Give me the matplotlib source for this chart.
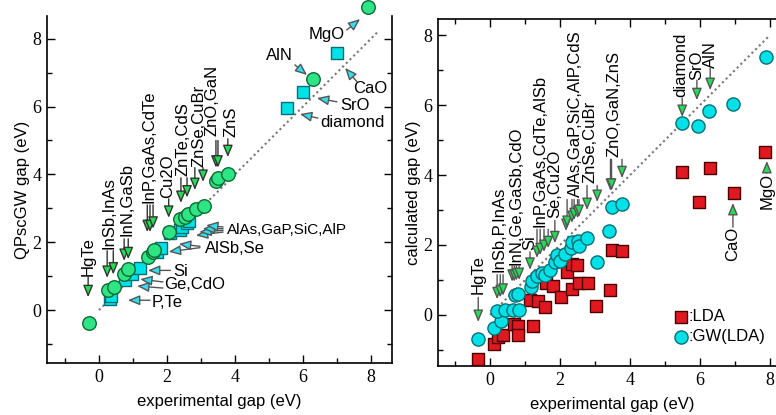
import matplotlib
matplotlib.use("Agg")
import matplotlib.pyplot as plt
from matplotlib.ticker import MultipleLocator

# tick numbers are serif, all other text is sans
plt.rcParams["font.family"] = ["Liberation Serif", "DejaVu Serif"]
SANS = ["Liberation Sans", "DejaVu Sans"]

# left panel: QPscGW vs experiment
left_circle_exp = [-0.29, 0.25, 0.44, 0.74, 0.85, 1.44, 1.58, 1.62, 2.05, 2.38, 2.52, 2.62, 2.85, 3.09, 3.44, 3.50, 3.79, 6.29, 7.91]
left_circle_gw = [-0.38, 0.60, 0.68, 1.07, 1.20, 1.56, 1.72, 1.78, 2.30, 2.68, 2.75, 2.82, 2.98, 3.07, 3.80, 3.88, 4.01, 6.81, 8.94]
left_square_exp = [0.33, 0.36, 0.76, 0.98, 1.20, 1.72, 1.82, 2.10, 2.38, 2.45, 2.59, 2.64, 5.53, 6.00, 7.00]
left_square_gw = [0.34, 0.42, 0.90, 1.05, 1.24, 1.72, 1.82, 2.27, 2.36, 2.45, 2.56, 2.62, 5.96, 6.43, 7.58]

# right panel: LDA and GW(LDA) vs experiment
lda_exp = [-0.34, 0.11, 0.23, 0.37, 0.69, 0.80, 0.80, 1.23, 1.14, 1.37, 1.57, 1.60, 1.80, 2.03, 2.34, 2.54, 2.80,
           2.20, 2.34, 2.49, 3.03, 3.43, 3.49, 3.77, 5.49, 5.97, 6.29, 6.97, 7.86]
lda_gap = [-1.26, -0.83, -0.63, -0.57, -0.26, -0.33, -0.57, -0.31, 0.43, 0.40, 0.22, 0.92, 0.83, 0.50, 0.75, 0.91, 0.91,
           1.23, 1.47, 1.43, 0.25, 0.70, 1.86, 1.83, 4.09, 3.23, 4.20, 3.49, 4.66]
gwlda_exp = [-0.34, 0.12, 0.30, 0.20, 0.42, 0.65, 0.82, 0.70, 0.80, 1.17, 1.20, 1.35, 1.47, 1.58, 1.70, 1.86, 1.90,
             2.00, 2.14, 2.30, 2.34, 2.52, 2.55, 2.77, 3.05, 3.40, 3.49, 3.77, 5.49, 5.94, 6.26, 6.94, 7.89]
gwlda_gap = [-0.68, -0.37, -0.16, 0.12, 0.15, 0.15, 0.14, 0.56, 0.60, 0.80, 0.97, 1.12, 1.20, 1.13, 1.29, 1.50, 1.72,
             1.53, 1.75, 1.90, 2.08, 2.12, 1.97, 2.20, 1.50, 2.40, 3.09, 3.17, 5.49, 5.40, 5.83, 6.03, 7.37]

# label layout: (text, x, y_bottom, [(x, y_tail, y_tip), ...])
LEFT_DOWN = [
    ("HgTe", -0.32, 1.0, [(-0.32, 1.0, 0.38)]),
    ("InSb,InAs", 0.28, 1.8, [(0.24, 1.75, 0.95), (0.42, 1.75, 1.05)]),
    ("InN,GaSb", 0.82, 2.18, [(0.74, 2.1, 1.45), (0.86, 2.1, 1.5)]),
    ("InP,GaAs,CdTe", 1.47, 3.16, [(1.42, 3.1, 2.3), (1.50, 3.1, 2.3), (1.59, 3.1, 2.4)]),
    ("Cu2O", 2.03, 3.3, [(2.05, 3.28, 2.72)]),
    ("ZnTe,CdS", 2.47, 3.95, [(2.41, 3.9, 3.16), (2.59, 3.9, 3.32)]),
    ("ZnSe,CuBr", 2.94, 4.22, [(2.82, 4.2, 3.54), (3.06, 4.2, 3.78)]),
    ("ZnO,GaN", 3.32, 5.13, [(3.44, 5.0, 4.2), (3.50, 5.0, 4.2)]),
    ("ZnS", 3.88, 5.1, [(3.79, 5.05, 4.51)]),
]
# (text, x, y, ha, [(x_tail, y_tail, x_tip, y_tip), ...])
LEFT_SIDE = [
    ("P,Te", 1.56, 0.22, "left", [(1.5, 0.29, 0.85, 0.29)]),
    ("Si", 2.18, 1.15, "left", [(2.1, 1.17, 1.44, 1.17)]),
    ("Ge,CdO", 1.91, 0.74, "left", [(1.88, 0.83, 1.21, 0.91), (1.88, 0.65, 1.12, 0.71)]),
    ("AlSb,Se", 3.12, 1.83, "left", [(2.97, 1.84, 2.05, 1.72), (2.97, 1.88, 2.35, 1.95)]),
    ("AlAs,GaP,SiC,AlP", 3.76, 2.36, "left", [(3.65, 2.30, 2.85, 2.20), (3.65, 2.35, 2.95, 2.30),
                                              (3.65, 2.40, 3.05, 2.40), (3.65, 2.45, 3.15, 2.50)]),
    ("MgO", 6.71, 8.11, "center", [(7.29, 8.26, 7.68, 8.58)]),
    ("AlN", 5.32, 7.52, "center", [(5.76, 7.23, 6.12, 6.93)]),
    ("CaO", 7.97, 6.52, "center", [(7.59, 6.73, 7.24, 7.14)]),
    ("SrO", 7.53, 6.02, "center", [(7.0, 6.14, 6.41, 6.25)]),
    ("diamond", 6.5, 5.52, "left", [(6.44, 5.66, 5.91, 5.78)]),
]
RIGHT_DOWN = [
    ("HgTe", -0.34, 0.6, [(-0.34, 0.5, -0.2)]),
    ("InSb,P,InAs", 0.26, 1.23, [(0.20, 1.15, 0.45), (0.29, 1.15, 0.5), (0.37, 1.15, 0.55)]),
    ("InN,Ge,GaSb,CdO", 0.74, 1.43, [(0.63, 1.4, 0.95), (0.69, 1.4, 0.95), (0.75, 1.4, 0.98), (0.83, 1.4, 1.0)]),
    ("Si", 1.14, 1.86, [(1.14, 1.8, 1.29)]),
    ("InP,GaAs,CdTe,AlSb", 1.43, 2.51, [(1.34, 2.45, 1.63), (1.43, 2.45, 1.71), (1.54, 2.45, 1.8), (1.66, 2.45, 1.91)]),
    ("Se,Cu2O", 1.86, 2.77, [(1.85, 2.7, 2.05), (2.17, 2.7, 2.4)]),
    ("AlAs,GaP,SiC,AlP,CdS", 2.43, 3.37, [(2.20, 3.3, 2.49), (2.34, 3.3, 2.63), (2.40, 3.3, 2.71),
                                          (2.50, 3.3, 2.76), (2.54, 3.3, 2.8)]),
    ("ZnSe,CuBr", 2.86, 3.77, [(2.77, 3.7, 3.0), (3.06, 3.7, 3.23)]),
    ("ZnO,GaN,ZnS", 3.54, 4.51, [(3.44, 4.45, 3.55), (3.47, 4.45, 3.55), (3.77, 4.45, 3.91)]),
    ("diamond", 5.46, 6.23, [(5.49, 6.2, 5.66)]),
    ("SrO", 5.91, 6.71, [(5.91, 6.71, 6.14)]),
    ("AlN", 6.29, 7.06, [(6.29, 7.06, 6.43)]),
]
RIGHT_UP = [
    ("CaO", 6.94, 2.51, [(6.94, 2.51, 3.2)]),
    ("MgO", 7.91, 4.06, [(7.91, 4.06, 4.4)]),
]

GREEN = "#2ee585"
GREEN_HEAD = "#22dd55"
CYAN = "#00e1e8"
CYAN_HEAD = "#33ddee"
RED = "#e01820"


def arrow(ax, tail, tip, head, shaft):
    ax.annotate("", xy=tip, xytext=tail, annotation_clip=False,
                arrowprops=dict(arrowstyle="-|>,head_length=0.6,head_width=0.25", mutation_scale=12,
                                fc=head, ec=shaft, lw=1.0, shrinkA=0, shrinkB=0))


def down_labels(ax, groups, head, shaft, fontsize=12, up=False):
    for text, x, y, arrows in groups:
        ax.text(x, y, text, rotation=90, ha="center", va="top" if up else "bottom", fontsize=fontsize,
                family=SANS)
        for ax_x, y0, y1 in arrows:
            arrow(ax, (ax_x, y0), (ax_x, y1), head, shaft)


def style_axes(ax):
    ax.xaxis.set_major_locator(MultipleLocator(2))
    ax.xaxis.set_minor_locator(MultipleLocator(1))
    ax.yaxis.set_major_locator(MultipleLocator(2))
    ax.yaxis.set_minor_locator(MultipleLocator(1))
    ax.tick_params(which="both", direction="in", width=1.0, labelsize=13, pad=4)
    ax.tick_params(which="major", length=6)
    ax.tick_params(which="minor", length=3.5)
    for s in ax.spines.values():
        s.set_linewidth(1.2)


fig = plt.figure(figsize=(7.76, 4.15), dpi=100)

# ---- left panel
ax1 = fig.add_axes([47 / 776, 1 - 363 / 415, (392 - 47) / 776, (363 - 16) / 415])
ax1.set_xlim(-1.53, 8.62)
ax1.set_ylim(-1.56, 8.67)
style_axes(ax1)
ax1.spines["top"].set_visible(False)
ax1.tick_params(which="both", right=True)
ax1.plot([0, 8.2], [0, 8.2], ls=(0, (1, 1.5)), color="#777777", lw=1.5, zorder=1)
ax1.scatter(left_square_exp, left_square_gw, s=70, marker="s", c=CYAN, edgecolors="#0b6f73", linewidths=1.0,
            zorder=3, clip_on=False)
ax1.scatter(left_circle_exp, left_circle_gw, s=95, marker="o", c=GREEN, edgecolors="#0d6a35", linewidths=1.0,
            zorder=4, clip_on=False)
down_labels(ax1, LEFT_DOWN, GREEN_HEAD, "#333333")
for text, x, y, ha, arrows in LEFT_SIDE:
    fs = 11 if text.startswith("AlAs") else 12
    ax1.text(x, y, text, ha=ha, va="center", fontsize=fs, family=SANS)
    for x0, y0, x1, y1 in arrows:
        arrow(ax1, (x0, y0), (x1, y1), CYAN_HEAD, "#555555")
ax1.set_xlabel("experimental gap (eV)", fontsize=12, labelpad=6, family=SANS)
ax1.set_ylabel("QPscGW gap (eV)", fontsize=12, labelpad=2, family=SANS)

# ---- right panel
ax2 = fig.add_axes([438 / 776, 1 - 366 / 415, (787.5 - 438) / 776, (366 - 19) / 415])
ax2.set_xlim(-1.49, 8.5)
ax2.set_ylim(-1.46, 8.46)
style_axes(ax2)
ax2.tick_params(which="both", top=True, right=True)
ax2.plot([0, 8.0], [0, 8.0], ls=(0, (1, 1.5)), color="#777777", lw=1.5, zorder=1)
ax2.scatter(lda_exp, lda_gap, s=70, marker="s", c=RED, edgecolors="#4a0000", linewidths=1.0, zorder=3,
            label=":LDA", clip_on=False)
ax2.scatter(gwlda_exp, gwlda_gap, s=90, marker="o", c=CYAN, edgecolors="#0b6f73", linewidths=1.0, zorder=4,
            label=":GW(LDA)", clip_on=False)
down_labels(ax2, RIGHT_DOWN, GREEN_HEAD, "#555555")
down_labels(ax2, RIGHT_UP, GREEN_HEAD, "#555555", up=True)
ax2.set_xlabel("experimental gap (eV)", fontsize=12, labelpad=6, family=SANS)
ax2.set_ylabel("calculated gap (eV)", fontsize=12, labelpad=2, family=SANS)
ax2.legend(loc="upper left", bbox_to_anchor=(0.675, 0.163), frameon=False, handlelength=0.8,
           handletextpad=0.05, borderpad=0, labelspacing=0.3, borderaxespad=0,
           prop={"family": SANS, "size": 12})

fig.savefig("out.png", dpi=100)
